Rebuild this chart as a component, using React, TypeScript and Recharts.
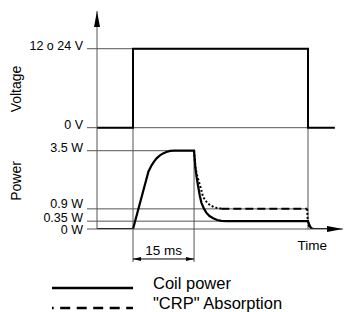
import { ComposedChart, Line, XAxis, YAxis, ReferenceLine, Legend } from 'recharts';

// time in ms, voltage in V (the high level is drawn at 12), power in W
const voltageSignal = [
  { t: -8.85, v: 0 },
  { t: 0, v: 0 },
  { t: 0, v: 12 },
  { t: 43, v: 12 },
  { t: 43, v: 0 },
  { t: 49.6, v: 0 },
];

const coilPower = [
  { t: -8.85, p: 0 },
  { t: 0, p: 0 },
  { t: 3.8, p: 2.57 },
  { t: 4.2, p: 2.72 },
  { t: 4.6, p: 2.86 },
  { t: 5.2, p: 3.02 },
  { t: 5.8, p: 3.16 },
  { t: 6.6, p: 3.29 },
  { t: 7.4, p: 3.38 },
  { t: 8.2, p: 3.44 },
  { t: 9.1, p: 3.49 },
  { t: 10.2, p: 3.5 },
  { t: 15, p: 3.5 },
  { t: 15.3, p: 2.79 },
  { t: 15.6, p: 2.35 },
  { t: 16, p: 1.91 },
  { t: 16.4, p: 1.5 },
  { t: 16.8, p: 1.18 },
  { t: 17.4, p: 0.92 },
  { t: 18, p: 0.73 },
  { t: 18.8, p: 0.58 },
  { t: 19.7, p: 0.48 },
  { t: 20.7, p: 0.4 },
  { t: 21.7, p: 0.36 },
  { t: 23, p: 0.35 },
  { t: 43, p: 0.35 },
  { t: 43.3, p: 0.2 },
  { t: 43.6, p: 0.08 },
  { t: 44, p: 0.02 },
  { t: 44.4, p: 0 },
  { t: 48.5, p: 0 },
];

// "CRP" absorption, only where it leaves the coil power curve
const crpDecay = [
  { t: 15, p: 3.5 },
  { t: 15.3, p: 2.79 },
  { t: 15.8, p: 2.35 },
  { t: 16.4, p: 1.99 },
  { t: 17.2, p: 1.45 },
  { t: 17.8, p: 1.27 },
  { t: 18.4, p: 1.14 },
  { t: 19.2, p: 1.04 },
  { t: 20.1, p: 0.96 },
  { t: 21.7, p: 0.91 },
];
const crpHold = [
  { t: 21.7, p: 0.9 },
  { t: 42.8, p: 0.9 },
];
const crpRelease = [
  { t: 42.8, p: 0.9 },
  { t: 42.9, p: 0.5 },
  { t: 43.1, p: 0.2 },
  { t: 43.4, p: 0.05 },
  { t: 43.8, p: 0 },
];

const voltTicks = [0, 12];
const voltTickLabels = ['0 V', '12 o 24 V'];
const powerTicks = [0, 0.35, 0.9, 3.5];
const powerTickLabels = ['0 W', '0.35 W', '0.9 W', '3.5 W'];
const powerLabelShift = [0.5, -3, -4.5, -3];
const legendNames = ['Coil power', '"CRP" Absorption'];

const tMin = -8.85;
const tMax = 51.6;
const tTick = -11.31; // left end of the tick marks
const tOn = 0;
const tBoostEnd = 15;
const tOff = 43;
const dimLevel = -1.34; // W, where the 15 ms dimension sits
const dimDrop = -1.475;

const powerDomain = [0, 9.745];
const voltDomain = [-15.39, 17.73];

const grid = '#555';
const font = '"Liberation Sans", Arial, sans-serif';

const powerTick = (props: any) => {
  const { x, y, payload } = props;
  const i = powerTicks.indexOf(payload.value);
  return (
    <text x={x} y={y + powerLabelShift[i]} textAnchor="end" dominantBaseline="central" fontSize={12.5} fill="#000" fontFamily={font}>
      {powerTickLabels[i]}
    </text>
  );
};

const sideLabel = (text: string) => (props: any) => {
  const vb = props.viewBox || {};
  const x = (vb.x ?? 0) - 4;
  const y = (vb.y ?? 0) + (vb.height ?? 0) / 2 - 3;
  return (
    <text x={x} y={y} textAnchor="end" dominantBaseline="central" fontSize={12.5} fill="#000" fontFamily={font}>
      {text}
    </text>
  );
};

const TimeTitle = () => (
  <text x={327} y={245} textAnchor="end" dominantBaseline="central" fontSize={13.5} fill="#000" fontFamily={font}>
    Time
  </text>
);

const renderLegend = () => (
  <svg width={344} height={40}>
    <line x1={52} x2={133} y1={16} y2={16} stroke="#000" strokeWidth={2.5} />
    <text x={153} y={17} fontSize={16.5} fontFamily={font} fill="#000">
      {legendNames[0]}
    </text>
    <line
      x1={52}
      x2={133}
      y1={36}
      y2={36}
      stroke="#000"
      strokeWidth={2.5}
      strokeDasharray="10 6.5"
      strokeDashoffset={8.3}
    />
    <text x={153} y={37} fontSize={16.5} fontFamily={font} fill="#000">
      {legendNames[1]}
    </text>
  </svg>
);

export default function App() {
  return (
    <div style={{ position: 'relative', width: 344, height: 312, background: '#fff' }}>
      <style>{'body{margin:0}'}</style>
      <svg width={0} height={0} style={{ position: 'absolute' }}>
        <defs>
          <marker
            id="axisArrow"
            viewBox="0 0 16 6"
            refX={16}
            refY={3}
            markerWidth={16}
            markerHeight={6}
            markerUnits="userSpaceOnUse"
            orient="auto-start-reverse"
          >
            <path d="M0,0 L16,3 L0,6 Z" fill="#000" />
          </marker>
          <marker
            id="dimArrow"
            viewBox="0 0 8 4"
            refX={8}
            refY={2}
            markerWidth={8}
            markerHeight={4}
            markerUnits="userSpaceOnUse"
            orient="auto-start-reverse"
          >
            <path d="M0,0 L8,2 L0,4 Z" fill="#000" />
          </marker>
        </defs>
      </svg>
      <svg width={344} height={312} style={{ position: 'absolute', left: 0, top: 0, pointerEvents: 'none', zIndex: 1 }}>
        <text x={16} y={89} transform="rotate(-90 16 89)" textAnchor="middle" dominantBaseline="central" fontSize={14} fontFamily={font}>
          Voltage
        </text>
        <text x={16} y={181} transform="rotate(-90 16 181)" textAnchor="middle" dominantBaseline="central" fontSize={14} fontFamily={font}>
          Power
        </text>
      </svg>
      <ComposedChart width={344} height={312} margin={{ top: 11, right: 1, left: 0, bottom: 53 }} style={{ fontFamily: font }}>
        <XAxis
          type="number"
          dataKey="t"
          domain={[tMin, tMax]}
          allowDataOverflow
          tick={false}
          tickLine={false}
          height={30}
          axisLine={{ stroke: grid, markerEnd: 'url(#axisArrow)' }}
          label={<TimeTitle />}
        />
        <YAxis yAxisId="volt" type="number" hide domain={voltDomain} allowDataOverflow />
        <YAxis
          yAxisId="power"
          type="number"
          width={97}
          domain={powerDomain}
          allowDataOverflow
          ticks={powerTicks}
          interval={0}
          tickSize={10}
          tickMargin={4}
          tickLine={{ stroke: grid }}
          axisLine={{ stroke: grid, markerStart: 'url(#axisArrow)' }}
          tick={powerTick}
        />

        {/* voltage ticks with their guide lines */}
        {voltTicks.map((v, i) => (
          <ReferenceLine
            key={v}
            yAxisId="volt"
            segment={[{ x: tTick, y: v }, { x: tOff, y: v }]}
            stroke={grid}
            ifOverflow="visible"
            label={{ content: sideLabel(voltTickLabels[i]) }}
          />
        ))}

        {/* power guide lines */}
        <ReferenceLine yAxisId="power" segment={[{ x: tMin, y: 3.5 }, { x: tBoostEnd, y: 3.5 }]} stroke={grid} />
        <ReferenceLine yAxisId="power" segment={[{ x: tMin, y: 0.9 }, { x: tOff, y: 0.9 }]} stroke={grid} />
        <ReferenceLine yAxisId="power" segment={[{ x: tMin, y: 0.35 }, { x: tOff, y: 0.35 }]} stroke={grid} />

        {/* timing guides */}
        <ReferenceLine yAxisId="volt" segment={[{ x: tOn, y: voltTicks[1] }, { x: tOn, y: voltDomain[0] }]} stroke={grid} />
        <ReferenceLine yAxisId="power" segment={[{ x: tOn, y: 0 }, { x: tOn, y: dimDrop }]} stroke={grid} ifOverflow="visible" />
        <ReferenceLine yAxisId="power" segment={[{ x: tBoostEnd, y: 3.5 }, { x: tBoostEnd, y: dimDrop }]} stroke={grid} ifOverflow="visible" />
        <ReferenceLine yAxisId="volt" segment={[{ x: tOff, y: voltTicks[1] }, { x: tOff, y: voltDomain[0] }]} stroke={grid} />
        <ReferenceLine
          yAxisId="power"
          segment={[{ x: tOn, y: dimLevel }, { x: tBoostEnd, y: dimLevel }]}
          stroke="#000"
          ifOverflow="visible"
          markerStart="url(#dimArrow)"
          markerEnd="url(#dimArrow)"
          label={{ value: '15 ms', position: 'top', offset: 4, fontSize: 13.5, fill: '#000', fontFamily: font }}
        />

        <Line yAxisId="volt" data={voltageSignal} dataKey="v" type="linear" stroke="#000" strokeWidth={2} dot={false} activeDot={false} isAnimationActive={false} />
        <Line yAxisId="power" data={crpDecay} dataKey="p" type="linear" stroke="#000" strokeWidth={2} strokeDasharray="2 2" dot={false} activeDot={false} isAnimationActive={false} />
        <Line yAxisId="power" data={crpHold} dataKey="p" type="linear" stroke="#000" strokeWidth={2} strokeDasharray="8 4" dot={false} activeDot={false} isAnimationActive={false} />
        <Line yAxisId="power" data={crpRelease} dataKey="p" type="linear" stroke="#000" strokeWidth={2} strokeDasharray="2 2" dot={false} activeDot={false} isAnimationActive={false} />
        <Line yAxisId="power" data={coilPower} dataKey="p" type="linear" stroke="#000" strokeWidth={2.2} dot={false} activeDot={false} isAnimationActive={false} />

        <Legend
          layout="horizontal"
          verticalAlign="middle"
          align="center"
          content={renderLegend}
          wrapperStyle={{ top: 272, left: 0, width: 344, height: 40 }}
        />
      </ComposedChart>
    </div>
  );
}
